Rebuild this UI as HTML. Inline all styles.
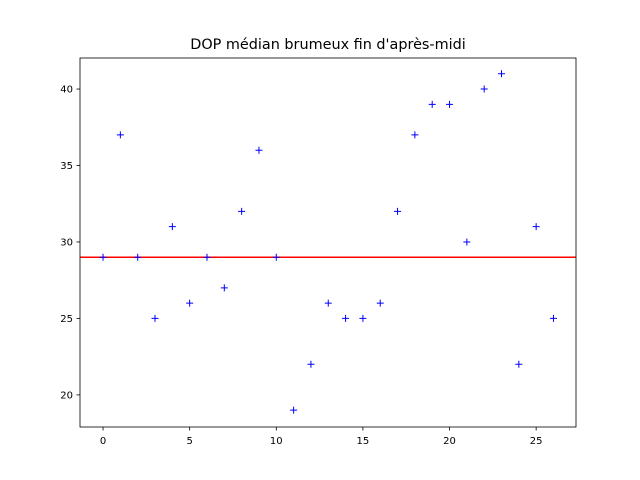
<!DOCTYPE html>
<html><head><meta charset="utf-8"><style>
html,body{margin:0;padding:0;background:#fff;}
svg{display:block;font-family:"DejaVu Sans","Liberation Sans",sans-serif;}
</style></head><body>
<svg id="chart" width="640" height="480" viewBox="0 0 640 480">
<rect width="640" height="480" fill="#fff"/>
<text x="328" y="49" font-size="14.4" text-anchor="middle">DOP médian brumeux fin d'après-midi</text>
<g id="marks"></g>
<rect x="80" y="58" width="496" height="369" fill="none" stroke="#000" stroke-width="0.8"/>
<g id="xticks"></g><g id="yticks"></g>
</svg>
<script>
const values = [29,37,29,25,31,26,29,27,32,36,29,19,22,26,25,25,26,32,37,39,39,30,40,41,22,31,25];
const medianValue = [29];
const xTickLabels = [0,5,10,15,20,25];
const yTickLabels = [20,25,30,35,40];
const X0=80,X1=576,Y0=427,Y1=58,xmin=-1.33,xmax=27.3,ymin=17.9,ymax=42.03;
const sx=v=>X0+(v-xmin)/(xmax-xmin)*(X1-X0);
const sy=v=>Y0-(v-ymin)/(ymax-ymin)*(Y0-Y1);
const NS="http://www.w3.org/2000/svg";
function mk(tag,attrs,parent){const e=document.createElementNS(NS,tag);for(const k in attrs)e.setAttribute(k,attrs[k]);parent.appendChild(e);return e;}
const marks=document.getElementById('marks');
const ml=mk('line',{x1:X0,x2:X1,y1:sy(medianValue[0]),y2:sy(medianValue[0]),stroke:'#ff0000','stroke-width':1.5},marks);


values.forEach((v,i)=>{
  const x=sx(i),y=sy(v);
  const p=mk('path',{d:`M${x-3.5},${y}H${x+3.5}M${x},${y-3.5}V${y+3.5}`,stroke:'#0000ff','stroke-width':1,fill:'none'},marks);
  
  
});
const xt=document.getElementById('xticks');
xTickLabels.forEach(t=>{
  const x=sx(t);
  const l=mk('line',{x1:x,x2:x,y1:Y0,y2:Y0+3.5,stroke:'#000','stroke-width':0.8},xt);
  
  
  const tx=mk('text',{x:x,y:Y0+17,'font-size':10,'text-anchor':'middle'},xt);
  tx.textContent=t;
  
  
});
const yt=document.getElementById('yticks');
yTickLabels.forEach(t=>{
  const y=sy(t);
  const l=mk('line',{x1:X0-3.5,x2:X0,y1:y,y2:y,stroke:'#000','stroke-width':0.8},yt);
  
  
  const tx=mk('text',{x:X0-7,y:y+3.5,'font-size':10,'text-anchor':'end'},yt);
  tx.textContent=t;
  
  
});
</script>
</body></html>
